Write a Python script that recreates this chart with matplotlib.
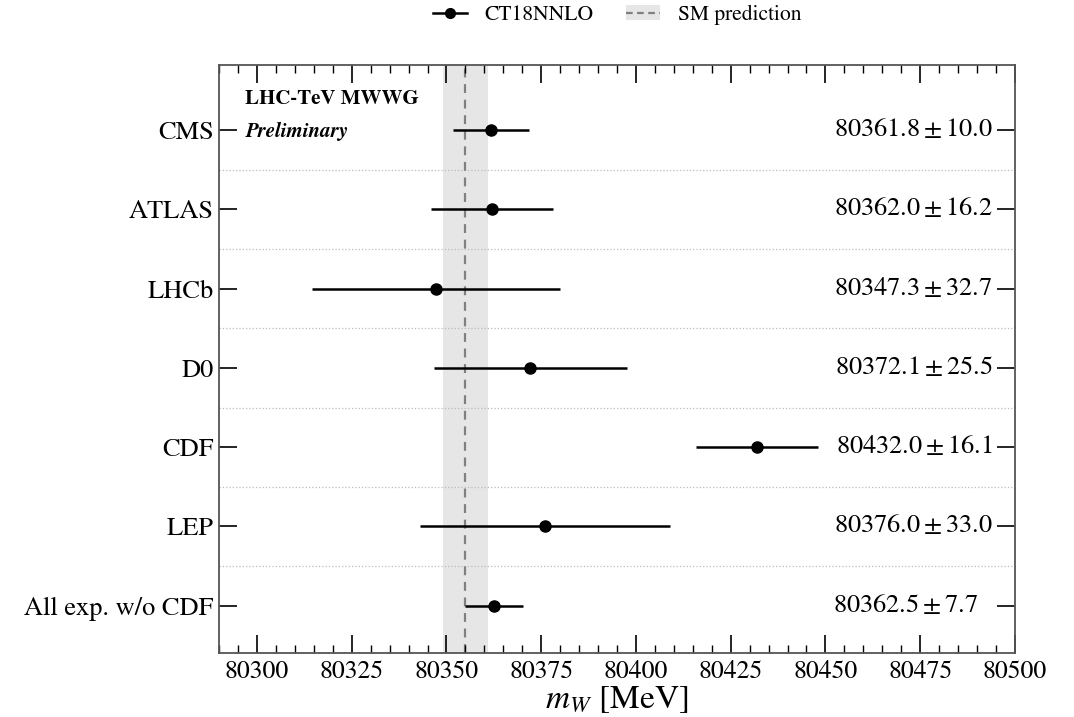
import matplotlib
matplotlib.use("Agg")
import matplotlib.pyplot as plt
from matplotlib.lines import Line2D
from matplotlib.patches import Patch
from matplotlib.ticker import MultipleLocator

plt.rcParams["font.family"] = "STIXGeneral"
plt.rcParams["mathtext.fontset"] = "stix"

# --- datos ---
experimentos = ["CMS", "ATLAS", "LHCb", "D0", "CDF", "LEP", "All exp. w/o CDF"]
mw_central = [80361.8, 80362.0, 80347.3, 80372.1, 80432.0, 80376.0, 80362.5]
mw_error = [10.0, 16.2, 32.7, 25.5, 16.1, 33.0, 7.7]
sm_central = 80355.0
sm_error = 6.0

fig = plt.figure(figsize=(10.74, 7.17), dpi=100)
ax = fig.add_axes([0.204, 0.089, 0.741, 0.82])

ypos = list(range(len(experimentos)))

# banda SM
ax.axvspan(sm_central - sm_error, sm_central + sm_error, color="#e6e6e6", zorder=0, lw=0)
ax.axvline(sm_central, color="gray", ls=(0, (4, 3)), lw=1.6, zorder=1)

# separadores
for y in ypos[:-1]:
    ax.axhline(y + 0.5, color="#bbbbbb", ls=":", lw=0.9, zorder=0)

ax.errorbar(mw_central, ypos, xerr=mw_error, fmt="o", color="black",
            ms=8, lw=1.8, capsize=0, zorder=3)

# valores a la derecha
for y, c, e in zip(ypos, mw_central, mw_error):
    txt = rf"${c:.1f} \pm {e:.1f}$"
    if e < 10:
        txt += "   "
    ax.text(0.972, y, txt, transform=ax.get_yaxis_transform(),
            ha="right", va="center", fontsize=19)

ax.set_xlim(80290, 80500)
ax.set_ylim(6.6, -0.82)
ax.set_yticks(ypos)
ax.set_yticklabels(experimentos, fontsize=19)
ax.xaxis.set_major_locator(MultipleLocator(25))
ax.xaxis.set_minor_locator(MultipleLocator(5))
ax.tick_params(axis="x", which="major", direction="in", length=13, width=1.2,
               top=True, labelsize=18.5, pad=5)
ax.tick_params(axis="x", which="minor", direction="in", length=6, width=1.0, top=True)
ax.tick_params(axis="y", which="major", direction="in", length=13, width=1.2,
               right=True, pad=4)
ax.tick_params(axis="y", which="minor", left=False, right=False)
for s in ax.spines.values():
    s.set_color("#555555")
    s.set_linewidth(1.3)

ax.set_xlabel(r"$m_W$ [MeV]", fontsize=24, labelpad=0)

ax.text(0.033, 0.942, "LHC-TeV MWWG", transform=ax.transAxes, fontsize=15,
        fontweight="bold", va="center")
ax.text(0.033, 0.888, "Preliminary", transform=ax.transAxes, fontsize=15,
        fontweight="bold", style="italic", va="center")

# leyenda
h_ct = Line2D([], [], color="black", marker="o", ms=7, lw=1.8)
h_sm = (Patch(facecolor="#e6e6e6", edgecolor="none"),
        Line2D([], [], color="gray", ls=(0, (3, 2)), lw=1.6))
ax.legend([h_ct, h_sm], ["CT18NNLO", "SM prediction"], loc="center",
          bbox_to_anchor=(0.5, 1.085), ncol=2, frameon=False, fontsize=15.5,
          handlelength=1.6, columnspacing=1.5, handletextpad=0.8)

fig.savefig("out.png", dpi=100)
